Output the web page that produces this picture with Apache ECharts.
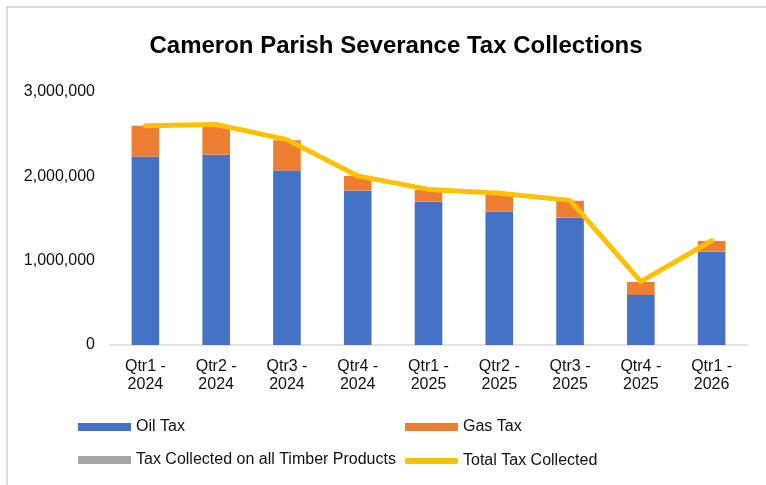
<!DOCTYPE html>
<html>
<head>
<meta charset="utf-8">
<script src="https://cdn.jsdelivr.net/npm/echarts@6/dist/echarts.min.js"></script>
<style>
  html, body { margin: 0; padding: 0; background: #fff; }
  #chart { width: 766px; height: 485px; }
</style>
</head>
<body>
<div id="chart"></div>
<script>
const categories = ['Qtr1 -\n2024', 'Qtr2 -\n2024', 'Qtr3 -\n2024', 'Qtr4 -\n2024', 'Qtr1 -\n2025', 'Qtr2 -\n2025', 'Qtr3 -\n2025', 'Qtr4 -\n2025', 'Qtr1 -\n2026']
const oilTax = [2234000, 2257000, 2068000, 1830000, 1700000, 1580000, 1510000, 593000, 1107000]
const gasTax = [366000, 353000, 360000, 175000, 138000, 210000, 200000, 154000, 127000]
const timberTax = [0, 0, 0, 0, 0, 0, 0, 0, 0]
const totalTax = [2600000, 2615000, 2435000, 2005000, 1845000, 1800000, 1715000, 752000, 1236000]
const yTicks = [0, 1000000, 2000000, 3000000]

const font = 'Liberation Sans, Arial, sans-serif'
const legendText = { fontSize: 16, color: '#111', fontFamily: font }

const chart = echarts.init(document.getElementById('chart'))

const legendBase = {
  orient: 'horizontal',
  itemWidth: 53,
  itemHeight: 8,
  itemGap: 10,
  icon: 'rect',
  textStyle: legendText,
  selectedMode: false
}

const option = {
  animation: false,
  backgroundColor: '#fff',
  title: {
    text: 'Cameron Parish Severance Tax Collections',
    left: 391,
    top: 29,
    textAlign: 'center',
    textStyle: { fontSize: 24, fontWeight: 'bold', color: '#000', fontFamily: font }
  },
  graphic: [
    {
      type: 'rect',
      shape: { x: 7, y: 7, width: 820, height: 520 },
      style: { fill: 'none', stroke: '#d9d9d9', lineWidth: 2 },
      silent: true
    }
  ],
  legend: [
    Object.assign({}, legendBase, { left: 73, top: 414, data: ['Oil Tax'] }),
    Object.assign({}, legendBase, { left: 400, top: 414, data: ['Gas Tax'] }),
    Object.assign({}, legendBase, { left: 73, top: 447, data: ['Tax Collected on all Timber Products'] }),
    Object.assign({}, legendBase, {
      left: 400,
      top: 448,
      itemHeight: 6,
      icon: 'roundRect',
      data: ['Total Tax Collected']
    })
  ],
  grid: {
    left: 110,
    right: 19,
    top: 92,
    bottom: 140
  },
  xAxis: {
    type: 'category',
    data: categories,
    axisTick: { show: false },
    axisLine: { lineStyle: { color: '#d9d9d9', width: 1.5 } },
    axisLabel: {
      color: '#111',
      fontSize: 16,
      fontFamily: font,
      lineHeight: 18,
      margin: 13,
      interval: 0
    }
  },
  yAxis: {
    type: 'value',
    min: yTicks[0],
    max: yTicks[yTicks.length - 1],
    interval: 1000000,
    splitLine: { show: false },
    axisLine: { show: false },
    axisTick: { show: false },
    axisLabel: {
      color: '#111',
      fontSize: 16,
      fontFamily: font,
      margin: 15,
      formatter: v => v.toLocaleString('en-US')
    }
  },
  series: [
    {
      name: 'Oil Tax',
      type: 'bar',
      stack: 'tax',
      barWidth: '39%',
      itemStyle: { color: '#4472C4' },
      data: oilTax
    },
    {
      name: 'Gas Tax',
      type: 'bar',
      stack: 'tax',
      itemStyle: { color: '#ED7D31' },
      data: gasTax
    },
    {
      name: 'Tax Collected on all Timber Products',
      type: 'bar',
      stack: 'tax',
      itemStyle: { color: '#A5A5A5' },
      data: timberTax
    },
    {
      name: 'Total Tax Collected',
      type: 'line',
      symbol: 'none',
      itemStyle: { color: '#FFC000' },
      lineStyle: { color: '#FFC000', width: 5, cap: 'round', join: 'round' },
      data: totalTax
    }
  ]
}

chart.setOption(option)
</script>
</body>
</html>
